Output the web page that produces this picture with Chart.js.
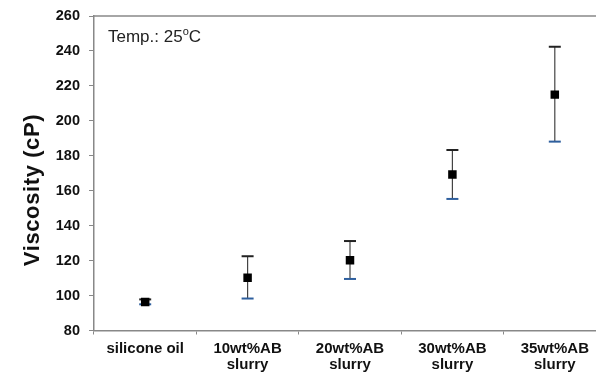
<!DOCTYPE html>
<html>
<head>
<meta charset="utf-8">
<script src="https://cdn.jsdelivr.net/npm/chart.js@4.4.1/dist/chart.umd.min.js"></script>
<style>
  html, body { margin: 0; padding: 0; background: #fff; overflow: hidden; }
  #wrap { width: 612px; height: 374px; }
</style>
</head>
<body>
<div id="wrap"><canvas id="chart" width="612" height="374"></canvas></div>
<script>
// data
var categories = [["silicone oil"], ["10wt%AB", "slurry"], ["20wt%AB", "slurry"], ["30wt%AB", "slurry"], ["35wt%AB", "slurry"]];
var viscosity = [96.3, 110.2, 120.2, 169.3, 215.0];
var err_upper = [97.8, 122.5, 131.2, 183.3, 242.4];
var err_lower = [95.0, 98.3, 109.5, 155.3, 188.1];
var y_ticks = [80, 100, 120, 140, 160, 180, 200, 220, 240, 260];
var y_title = "Viscosity (cP)";

var fontName = "'Liberation Sans', Arial, sans-serif";

// error bars drawn before the markers so the squares sit on top
var errorBars = {
    id: "errorBars",
    beforeDatasetsDraw: function(chart) {
        var ctx = chart.ctx;
        var x = chart.scales.x, y = chart.scales.y;
        ctx.save();
        for (let i = 0; i < viscosity.length; i++) {
            var px = x.getPixelForValue(i);
            var top = y.getPixelForValue(err_upper[i]);
            var bot = y.getPixelForValue(err_lower[i]);
            ctx.strokeStyle = "#444";
            ctx.lineWidth = 1.2;
            ctx.beginPath();
            ctx.moveTo(px, top);
            ctx.lineTo(px, bot);
            ctx.stroke();
            ctx.lineWidth = 2;
            ctx.strokeStyle = "#222";
            ctx.beginPath();
            ctx.moveTo(px - 6, top);
            ctx.lineTo(px + 6, top);
            ctx.stroke();
            ctx.strokeStyle = "#2e5f9e";
            ctx.beginPath();
            ctx.moveTo(px - 6, bot);
            ctx.lineTo(px + 6, bot);
            ctx.stroke();
        }
        ctx.restore();
    },
    afterDraw: function(chart) {
        var ctx = chart.ctx;
        var a = chart.chartArea;
        ctx.save();
        // top frame line
        ctx.strokeStyle = "#888";
        ctx.lineWidth = 1.5;
        ctx.beginPath();
        ctx.moveTo(a.left, a.top);
        ctx.lineTo(a.right, a.top);
        ctx.stroke();
        // annotation
        ctx.fillStyle = "#222";
        ctx.textBaseline = "alphabetic";
        ctx.textAlign = "left";
        ctx.font = "17px " + fontName;
        var t = "Temp.: 25";
        ctx.fillText(t, 108, 42);
        var w = ctx.measureText(t).width;
        ctx.font = "11px " + fontName;
        ctx.fillText("o", 108 + w, 35);
        var w2 = ctx.measureText("o").width;
        ctx.font = "17px " + fontName;
        ctx.fillText("C", 108 + w + w2, 42);
        // y axis title
        ctx.translate(33, 190);
        ctx.rotate(-Math.PI / 2);
        ctx.fillStyle = "#111";
        ctx.font = "bold 22px " + fontName;
        ctx.letterSpacing = "0.6px";
        ctx.textAlign = "center";
        ctx.textBaseline = "middle";
        ctx.fillText(y_title, 0, 0);
        ctx.restore();
    }
};

var ctx = document.getElementById("chart").getContext("2d");
var myChart = new Chart(ctx, {
    type: "line",
    data: {
        labels: categories,
        datasets: [{
            label: "Viscosity",
            data: viscosity,
            showLine: false,
            pointStyle: "rect",
            pointRadius: 6,
            pointHoverRadius: 6,
            backgroundColor: "#000",
            borderColor: "#000",
            borderWidth: 0,
        }],
    },
    options: {
        responsive: false,
        animation: false,
        layout: { padding: { left: 0, top: 16, right: 4, bottom: 0 } },
        plugins: {
            legend: { display: false },
            tooltip: { enabled: false },
        },
        scales: {
            x: {
                type: "category",
                offset: true,
                grid: {
                    offset: true,
                    drawOnChartArea: false,
                    drawTicks: true,
                    tickLength: 4,
                    color: "#888",
                },
                border: { color: "#888", width: 1.5 },
                ticks: {
                    color: "#111",
                    font: { family: fontName, size: 15, weight: "bold", lineHeight: 1.1 },
                    padding: 6,
                    maxRotation: 0,
                    autoSkip: false,
                },
                afterFit: function(scale) { scale.height = 43.5; },
            },
            y: {
                min: 80,
                max: 260,
                afterBuildTicks: function(scale) {
                    var t = [];
                    for (let i = 0; i < y_ticks.length; i++) {
                        t.push({ value: y_ticks[i] });
                        if (i < y_ticks.length - 1) t.push({ value: y_ticks[i] + 10 });
                    }
                    scale.ticks = t;
                },
                grid: {
                    drawOnChartArea: false,
                    drawTicks: true,
                    tickLength: 5,
                    color: "#888",
                },
                border: { color: "#888", width: 1.5 },
                ticks: {
                    color: "#111",
                    padding: 9,
                    font: { family: fontName, size: 14.5, weight: "bold" },
                    callback: function(v) { return y_ticks.indexOf(v) >= 0 ? v : ""; },
                },
                afterFit: function(scale) {
                    scale.width = 94;
                    scale.paddingTop = 0;
                    scale.paddingBottom = 0;
                },
            },
        },
    },
    plugins: [errorBars],
});
</script>
</body>
</html>
